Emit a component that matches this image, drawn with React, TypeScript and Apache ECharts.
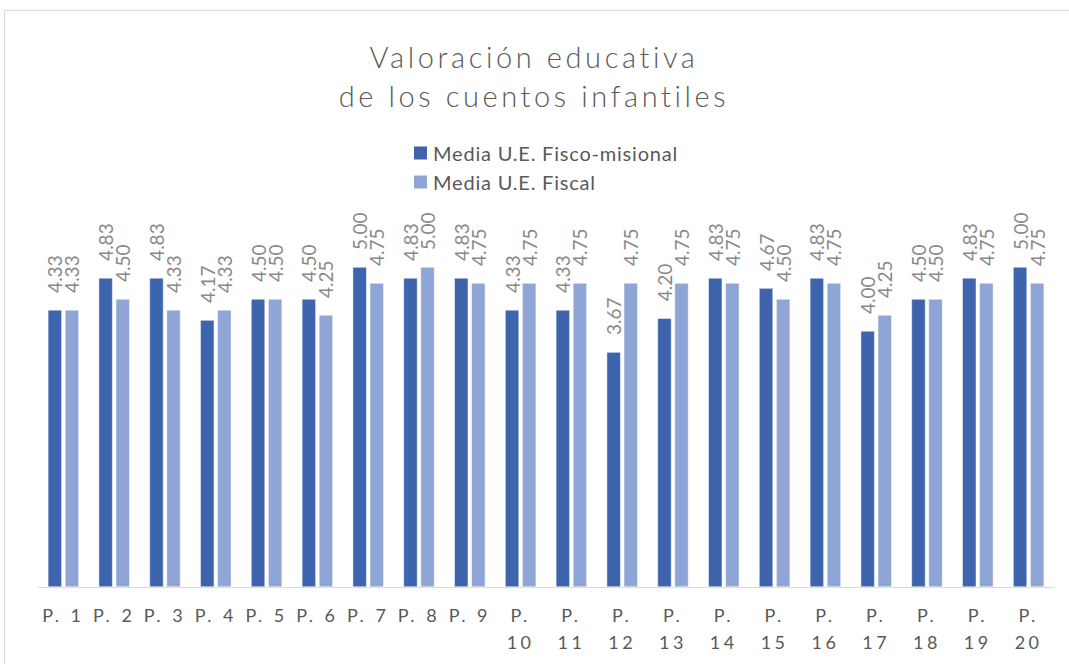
import React, { useEffect, useRef } from "react";
import * as echarts from "echarts";

const categories = [
  "P. 1", "P. 2", "P. 3", "P. 4", "P. 5", "P. 6", "P. 7", "P. 8", "P. 9", "P. 10",
  "P. 11", "P. 12", "P. 13", "P. 14", "P. 15", "P. 16", "P. 17", "P. 18", "P. 19", "P. 20",
];
const fiscoMisional = [4.33, 4.83, 4.83, 4.17, 4.5, 4.5, 5.0, 4.83, 4.83, 4.33, 4.33, 3.67, 4.2, 4.83, 4.67, 4.83, 4.0, 4.5, 4.83, 5.0];
const fiscal = [4.33, 4.5, 4.33, 4.33, 4.5, 4.25, 4.75, 5.0, 4.75, 4.75, 4.75, 4.75, 4.75, 4.75, 4.5, 4.75, 4.25, 4.5, 4.75, 4.75];
const seriesNames = ["Media U.E. Fisco-misional", "Media U.E. Fiscal"];
const titleText = "Valoración educativa\nde los cuentos infantiles";

const DARK = "#3d64ad";
const LIGHT = "#8fa5d6";

export default function App() {
  const ref = useRef<HTMLDivElement>(null);
  useEffect(() => {
    if (!ref.current) return;
    const style = document.createElement("style");
    style.textContent = `
      #root svg text[style*="DejaVu Sans"], #root svg text[font-family*="DejaVu Sans"] { letter-spacing: 3.6px; }
      #root svg text[style*="Noto Sans"], #root svg text[font-family*="Noto Sans"] { letter-spacing: 3.5px; }
      #root svg text[style*="Liberation Sans"], #root svg text[font-family*="Liberation Sans"] { letter-spacing: 0.8px; }
    `;
    document.head.appendChild(style);
    const chart = echarts.init(ref.current, null, { renderer: "svg" });
    const labelOpt = {
      show: true,
      position: "top",
      rotate: 90,
      align: "left",
      verticalAlign: "middle",
      distance: 17,
      color: "#898989",
      fontSize: 19,
      fontFamily: "Lato",
      formatter: (p: any) => Number(p.value).toFixed(2),
    };
    chart.setOption({
      animation: false,
      backgroundColor: "#ffffff",
      graphic: [
        {
          type: "rect",
          silent: true,
          shape: { x: 4.5, y: 10.5, width: 1100, height: 700 },
          style: { fill: "none", stroke: "#d9d9d9", lineWidth: 1 },
        },
      ],
      title: {
        text: titleText,
        left: 529,
        textAlign: "center",
        top: 32,
        textStyle: {
          fontFamily: "Lato, 'DejaVu Sans'",
          fontWeight: 300,
          fontSize: 29,
          lineHeight: 39,
          color: "#595959",
        },
      },
      legend: {
        orient: "vertical",
        left: 407,
        top: 138,
        itemWidth: 15,
        itemHeight: 15,
        itemGap: 9,
        icon: "rect",
        textStyle: { fontFamily: "Lato, 'Liberation Sans'", fontSize: 20, color: "#595959" },
        data: seriesNames,
      },
      grid: { left: 38, right: 15, top: 203, bottom: 77, containLabel: false },
      xAxis: {
        type: "category",
        data: categories,
        axisLine: { lineStyle: { color: "#d9d9d9", width: 1 } },
        axisTick: { show: false },
        axisLabel: {
          interval: 0,
          color: "#595959",
          fontSize: 18,
          fontFamily: "Lato, 'Noto Sans'",
          lineHeight: 27,
          margin: 14,
          formatter: (v: string) => (v.length > 4 ? v.replace(" ", "\n") : v),
        },
      },
      yAxis: {
        type: "value",
        min: 0,
        max: 6,
        interval: 1,
        show: false,
        splitLine: { show: false },
      },
      series: [
        {
          name: seriesNames[0],
          type: "bar",
          data: fiscoMisional,
          barWidth: 14,
          barGap: "22%",
          itemStyle: { color: DARK, borderColor: "#ffffff", borderWidth: 0.5 },
          label: labelOpt,
        },
        {
          name: seriesNames[1],
          type: "bar",
          data: fiscal,
          barWidth: 14,
          itemStyle: { color: LIGHT, borderColor: "#ffffff", borderWidth: 0.5 },
          label: labelOpt,
        },
      ],
    });
    return () => {
      chart.dispose();
      style.remove();
    };
  }, []);
  return (
    <div
      ref={ref}
      style={{ position: "absolute", left: 0, top: 0, width: 1069, height: 664 }}
    />
  );
}
